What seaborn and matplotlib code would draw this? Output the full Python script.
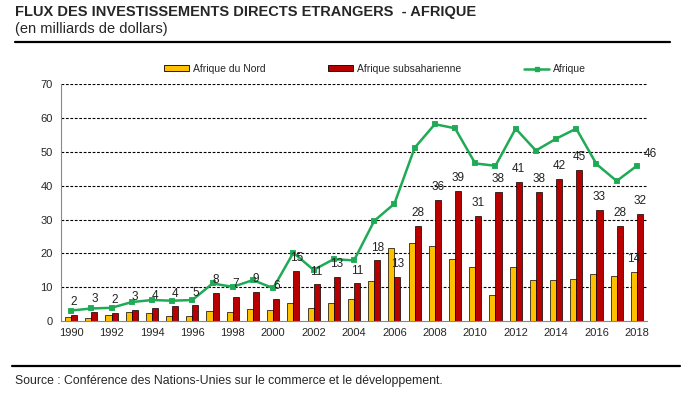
import numpy as np
import pandas as pd
import seaborn as sns
import matplotlib.pyplot as plt
from matplotlib.lines import Line2D
from matplotlib.patches import Patch

# Data (billions of dollars)
years = [str(y) for y in range(1990, 2019)]
afrique_nord = [1.2, 0.9, 1.7, 2.6, 2.3, 1.4, 1.5, 2.9, 2.8, 3.5,
                3.2, 5.2, 3.7, 5.2, 6.4, 11.8, 21.5, 23.1, 22.1, 18.2,
                15.9, 7.6, 15.9, 12.0, 12.0, 12.3, 13.8, 13.2, 14.4]
afrique_subsah = [1.8, 2.6, 2.3, 3.3, 3.7, 4.3, 4.6, 8.2, 7.0, 8.5,
                  6.4, 14.7, 10.8, 12.9, 11.1, 17.9, 12.9, 28.1, 35.8, 38.4,
                  31.0, 38.1, 41.0, 38.1, 42.0, 44.6, 32.7, 28.0, 31.6]
afrique_total = [3.1, 3.7, 3.9, 5.6, 6.2, 6.0, 6.2, 11.1, 10.1, 12.1,
                 9.7, 20.2, 15.1, 18.3, 17.9, 29.6, 34.7, 51.2, 58.2, 57.0,
                 46.6, 45.9, 56.9, 50.4, 53.9, 56.9, 46.4, 41.4, 45.9]
subsah_labels = [2, 3, 2, 3, 4, 4, 5, 8, 7, 9, 6, 15, 11, 13, 11, 18, 13,
                 28, 36, 39, 31, 38, 41, 38, 42, 45, 33, 28, 32]

series_names = ["Afrique du Nord", "Afrique subsaharienne", "Afrique"]
colors = {"Afrique du Nord": "#FFC000", "Afrique subsaharienne": "#B80000"}
line_color = "#1FAA55"


def main():
    sns.set_style("white")
    plt.rcParams["font.family"] = ["Liberation Sans", "DejaVu Sans"]

    df_bars = pd.DataFrame({
        "annee": years * 2,
        "serie": [series_names[0]] * len(years) + [series_names[1]] * len(years),
        "valeur": afrique_nord + afrique_subsah,
    })
    df_line = pd.DataFrame({"annee": years, "valeur": afrique_total})

    fig = plt.figure(figsize=(6.89, 3.97), dpi=100)
    ax = fig.add_axes([61 / 689, 1 - 321 / 397, 586 / 689, 236.7 / 397])

    # dashed grid behind the bars
    ax.set_axisbelow(True)
    for v in range(10, 80, 10):
        ax.axhline(v, color="black", lw=0.8, ls=(0, (2.5, 1.5)), zorder=0)

    sns.barplot(
        data=df_bars, x="annee", y="valeur", hue="serie",
        palette=colors, saturation=1, width=0.6, edgecolor="black",
        linewidth=0.5, legend=False, ax=ax, zorder=2,
    )
    sns.pointplot(
        data=df_line, x="annee", y="valeur", color=line_color,
        markers="s", markersize=3.5, linewidth=1.8, ax=ax, zorder=4,
    )

    # labels above the subsaharan bars
    for i, (v, lab) in enumerate(zip(afrique_subsah, subsah_labels)):
        ax.annotate(str(lab), (i + 0.15, v), xytext=(0, 5),
                    textcoords="offset points", ha="center", va="bottom",
                    fontsize=8.5, color="#222222", zorder=5)
    n = len(years) - 1
    ax.annotate(f"{afrique_nord[-1]:.0f}", (n - 0.15, afrique_nord[-1]),
                xytext=(0, 5), textcoords="offset points", ha="center",
                va="bottom", fontsize=8.5, color="#222222", zorder=5)
    ax.annotate(f"{afrique_total[-1]:.0f}", (n, afrique_total[-1]),
                xytext=(5, 4), textcoords="offset points", ha="left",
                va="bottom", fontsize=8.5, color="#222222", zorder=5)

    ax.set_xlim(-0.5, len(years) - 0.5)
    ax.set_ylim(0, 70)
    ax.set_yticks(range(0, 80, 10))
    ax.set_xticks(range(0, len(years), 2))
    ax.set_xticklabels(years[::2])
    ax.set_xticks(np.arange(-0.5, len(years), 2), minor=True)
    ax.tick_params(axis="x", which="major", length=0, labelsize=8, pad=5)
    ax.tick_params(axis="x", which="minor", length=3, color="#888888")
    ax.tick_params(axis="y", length=3, color="#888888", labelsize=8, pad=3)
    ax.set_xlabel("")
    ax.set_ylabel("")
    for side in ["top", "right"]:
        ax.spines[side].set_visible(False)
    for side in ["left", "bottom"]:
        ax.spines[side].set_color("#888888")
        ax.spines[side].set_linewidth(0.8)

    handles = [
        Patch(facecolor=colors[series_names[0]], edgecolor="black", lw=0.6),
        Patch(facecolor=colors[series_names[1]], edgecolor="black", lw=0.6),
        Line2D([], [], color=line_color, lw=1.8, marker="s", markersize=3),
    ]
    fig.legend(handles, series_names, loc="center", ncol=3,
               bbox_to_anchor=(375 / 689, 1 - 69 / 397), frameon=False,
               fontsize=7.5, handlelength=2.4, handleheight=0.45,
               handletextpad=0.4, columnspacing=6.0)

    fig.text(15 / 689, 1 - 12 / 397,
             "FLUX DES INVESTISSEMENTS DIRECTS ETRANGERS  - AFRIQUE",
             fontsize=10.5, fontweight="bold", va="center", ha="left")
    fig.text(15 / 689, 1 - 29 / 397, "(en milliards de dollars)",
             fontsize=10.5, va="center", ha="left")
    fig.add_artist(Line2D([15 / 689, 670 / 689], [1 - 42 / 397] * 2,
                          color="black", lw=1.6))
    fig.add_artist(Line2D([12 / 689, 680 / 689], [1 - 366 / 397] * 2,
                          color="black", lw=1.6))
    fig.text(15 / 689, 1 - 381 / 397,
             "Source : Conférence des Nations-Unies sur le commerce et le développement.",
             fontsize=8.8, va="center", ha="left")

    fig.savefig("out.png", dpi=100)


if __name__ == "__main__":
    main()
